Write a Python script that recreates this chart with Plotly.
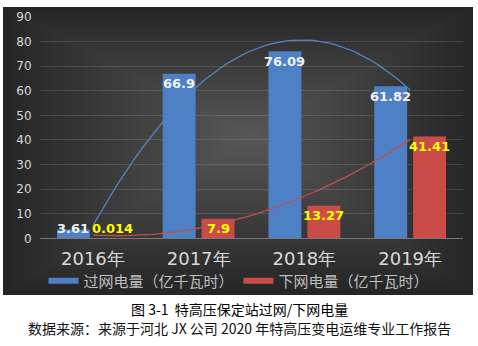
import numpy as np
import plotly.graph_objects as go

years = ["2016年", "2017年", "2018年", "2019年"]
through = [3.61, 66.9, 76.09, 61.82]
down = [0.014, 7.9, 13.27, 41.41]
through_labels = ["3.61", "66.9", "76.09", "61.82"]
down_labels = ["0.014", "7.9", "13.27", "41.41"]
name_through = "过网电量（亿千瓦时）"
name_down = "下网电量（亿千瓦时）"
caption1 = "图 3-1  特高压保定站过网/下网电量"
caption2 = "数据来源：来源于河北 JX 公司 2020 年特高压变电运维专业工作报告"

W, H = 478, 346
xs = np.arange(len(years))
BLUE = "#4d80c4"
RED = "#c94c48"

fig = go.Figure()
fig.add_trace(go.Bar(x=xs, y=through, marker=dict(color=BLUE, line=dict(width=0)),
                     showlegend=False, name=name_through))
fig.add_trace(go.Bar(x=xs, y=down, marker=dict(color=RED, line=dict(width=0)),
                     showlegend=False, name=name_down))

# polynomial (order 2) trendlines, as in the source chart
xx = np.linspace(0, len(years) - 1, 60)
for vals, col in [(through, "#5583c0"), (down, "#c0504d")]:
    p = np.polyfit(xs, vals, 2)
    fig.add_trace(go.Scatter(x=xx, y=np.polyval(p, xx), mode="lines",
                             line=dict(color=col, width=1.3), showlegend=False,
                             hoverinfo="skip"))

# legend entries
fig.add_trace(go.Scatter(x=[None], y=[None], mode="lines", name=name_through,
                         line=dict(color=BLUE, width=6)))
fig.add_trace(go.Scatter(x=[None], y=[None], mode="lines", name=name_down,
                         line=dict(color=RED, width=6)))

bargap = 0.264
groupgap = 0.154
off = (1 - bargap) / 4
ann = []
for i in range(len(years)):
    for vals, labs, sgn, col in [(through, through_labels, -1, "#f2f2f2"),
                                 (down, down_labels, 1, "#ffff00")]:
        ann.append(dict(x=xs[i] + sgn * off, y=max(vals[i], 8.0), text=labs[i],
                        xref="x", yref="y", showarrow=False, yshift=-10,
                        yanchor="middle",
                        font=dict(family="DejaVu Sans", size=13, color=col,
                                  weight="bold")))
ann.append(dict(x=0.5, y=(H - 309) / H, xref="paper", yref="paper", text=caption1,
                showarrow=False, yanchor="middle",
                font=dict(family="Noto Sans CJK SC", size=14, color="#000")))
ann.append(dict(x=0.5, y=(H - 328) / H, xref="paper", yref="paper", text=caption2,
                showarrow=False, yanchor="middle",
                font=dict(family="Noto Sans CJK SC", size=14, color="#111")))

# dark background panel with soft radial-ish glow
x0, x1, y0, y1 = 3, 473, 7, 295
shapes = [dict(type="rect", xref="paper", yref="paper", layer="below",
               x0=x0 / W, x1=x1 / W, y0=(H - y1) / H, y1=(H - y0) / H,
               fillcolor="#262626", line=dict(width=0))]
cx, cy = 250, 135
N = 24
for k in range(1, N + 1):
    f = 1 - k / (N + 1)
    ax0 = cx - (cx - x0) * f
    ax1 = cx + (x1 - cx) * f
    ay0 = cy - (cy - y0) * f
    ay1 = cy + (y1 - cy) * f
    shapes.append(dict(type="rect", xref="paper", yref="paper", layer="below",
                       x0=ax0 / W, x1=ax1 / W, y0=(H - ay1) / H, y1=(H - ay0) / H,
                       fillcolor="rgba(255,255,255,0.012)", line=dict(width=0)))

fig.update_layout(
    width=W, height=H, autosize=False,
    margin=dict(l=0, r=0, t=0, b=0, pad=0),
    paper_bgcolor="white", plot_bgcolor="rgba(0,0,0,0)",
    barmode="group", bargap=bargap, bargroupgap=groupgap,
    shapes=shapes, annotations=ann,
    legend=dict(orientation="h", x=0.5, xanchor="center", y=(H - 281) / H,
                yanchor="middle", font=dict(family="Noto Sans CJK SC", size=15, color="#bfbfbf"),
                bgcolor="rgba(0,0,0,0)", itemwidth=30),
    xaxis=dict(domain=[40 / W, 463 / W], range=[-0.5, len(years) - 0.5],
               tickvals=list(xs), ticktext=years, showgrid=False, zeroline=False,
               showline=True, linecolor="#7a7a7a", linewidth=1, automargin=False,
               ticks="outside", ticklen=4, tickcolor="rgba(0,0,0,0)",
               tickfont=dict(family="DejaVu Sans", size=18, color="#d9d9d9")),
    yaxis=dict(domain=[(H - 238.3) / H, (H - 17) / H], range=[0, 90], dtick=10,
               showgrid=True, gridcolor="rgba(255,255,255,0.12)", gridwidth=1,
               zeroline=False, ticks="outside", ticklen=5, tickcolor="rgba(0,0,0,0)",
               automargin=False,
               tickfont=dict(family="DejaVu Sans", size=12, color="#d9d9d9")),
    font=dict(family="Noto Sans CJK SC"),
)

fig.write_html("out.html")
